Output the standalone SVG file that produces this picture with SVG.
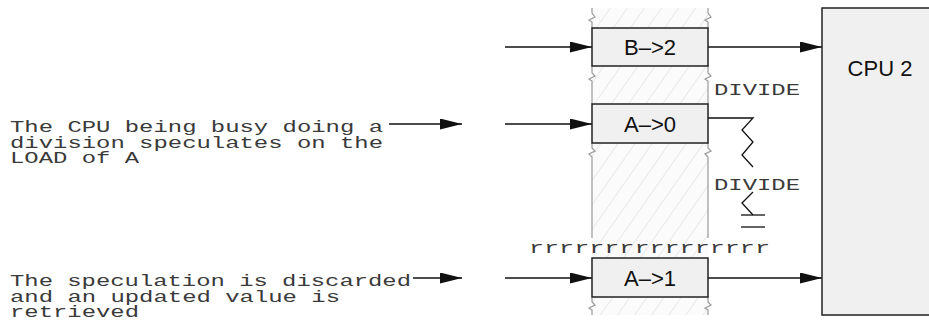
<svg xmlns="http://www.w3.org/2000/svg" width="929" height="331" viewBox="0 0 929 331">
<style>
.box{fill:#f0f0f0;stroke:#222;stroke-width:1.5}
.lbl{font-family:"Liberation Sans",Arial,sans-serif;font-size:22px;fill:#111;text-anchor:middle}
.mono{font-family:"Liberation Mono","Courier New",monospace;font-size:16.5px;fill:#3a3a3a}
.edge{fill:none;stroke:#999;stroke-width:1.2}
.conn{fill:none;stroke:#111;stroke-width:1.4}
.zig{fill:none;stroke:#111;stroke-width:1.3}
</style>
<defs>
<marker id="ah" markerUnits="userSpaceOnUse" markerWidth="22" markerHeight="12" refX="22" refY="5.5" orient="auto">
<path d="M0,0 L22,5.5 L0,11 z" fill="#111"/>
</marker>
<pattern id="hatch" patternUnits="userSpaceOnUse" width="14" height="14" patternTransform="rotate(35)">
<rect width="14" height="14" fill="#fbfbfb"/>
<line x1="0" y1="0" x2="0" y2="14" stroke="#dedede" stroke-width="1.2"/>
</pattern>
</defs>

<g id="column">
<rect x="592" y="8" width="116" height="307" fill="url(#hatch)"/>
<path class="edge" d="M592,8 L592,13 L595,17 L589,20 L592,22 L592,28"/>
<path class="edge" d="M708,8 L708,13 L711,17 L705,20 L708,22 L708,28"/>
<path class="edge" d="M592,66 L592,73 L595,76 L589,79 L592,81 L592,104"/>
<path class="edge" d="M708,66 L708,73 L711,76 L705,79 L708,81 L708,104"/>
<path class="edge" d="M592,143 L592,148 L595,151 L589,154 L592,157 L592,238"/>
<path class="edge" d="M708,143 L708,148 L711,151 L705,154 L708,157 L708,238"/>
<path class="edge" d="M592,297 L592,302 L595,305 L589,308 L592,310 L592,315"/>
<path class="edge" d="M708,297 L708,302 L711,305 L705,308 L708,310 L708,315"/>
</g>

<g id="connectors">
<line class="conn" x1="505" y1="47" x2="592" y2="47" marker-end="url(#ah)"/>
<line class="conn" x1="708" y1="47" x2="822" y2="47" marker-end="url(#ah)"/>
<line class="conn" x1="505" y1="124" x2="592" y2="124" marker-end="url(#ah)"/>
<line class="conn" x1="505" y1="278" x2="592" y2="278" marker-end="url(#ah)"/>
<line class="conn" x1="708" y1="278" x2="822" y2="278" marker-end="url(#ah)"/>
<line class="conn" x1="389" y1="124" x2="462" y2="124" marker-end="url(#ah)"/>
<line class="conn" x1="413" y1="278" x2="462" y2="278" marker-end="url(#ah)"/>
</g>

<g id="divide">
<path class="zig" d="M708,118 L753,118 L742,130 L753,142 L742,155 L753,167"/>
<path class="zig" d="M753,192 L742,203 L753,215"/>
<line class="zig" x1="741" y1="215" x2="765" y2="215"/>
<line class="zig" x1="741" y1="227" x2="765" y2="227"/>
<text class="mono" x="714" y="95" textLength="86" lengthAdjust="spacingAndGlyphs">DIVIDE</text>
<text class="mono" x="714" y="190" textLength="86" lengthAdjust="spacingAndGlyphs">DIVIDE</text>
</g>

<g id="rline">
<text class="mono" x="529" y="253" textLength="241" lengthAdjust="spacingAndGlyphs">rrrrrrrrrrrrrrrr</text>
</g>

<g id="B2">
<rect class="box" x="592" y="28" width="116" height="38"/>
<text class="lbl" x="650" y="55">B–&gt;2</text>
</g>
<g id="A0">
<rect class="box" x="592" y="104" width="116" height="39"/>
<text class="lbl" x="650" y="131.5">A–&gt;0</text>
</g>
<g id="A1">
<rect class="box" x="592" y="258" width="116" height="39"/>
<text class="lbl" x="650" y="285.5">A–&gt;1</text>
</g>
<g id="CPU2">
<rect class="box" x="822" y="8" width="115" height="307"/>
<text class="lbl" x="880" y="76">CPU 2</text>
</g>

<g id="note1">
<text class="mono" x="10" y="132" textLength="373" lengthAdjust="spacingAndGlyphs">The CPU being busy doing a</text>
<text class="mono" x="10" y="147.5" textLength="373" lengthAdjust="spacingAndGlyphs">division speculates on the</text>
<text class="mono" x="10" y="163" textLength="129" lengthAdjust="spacingAndGlyphs">LOAD of A</text>
</g>
<g id="note2">
<text class="mono" x="10" y="286" textLength="401" lengthAdjust="spacingAndGlyphs">The speculation is discarded</text>
<text class="mono" x="10" y="301.5" textLength="330" lengthAdjust="spacingAndGlyphs">and an updated value is</text>
<text class="mono" x="10" y="317" textLength="129" lengthAdjust="spacingAndGlyphs">retrieved</text>
</g>
</svg>
